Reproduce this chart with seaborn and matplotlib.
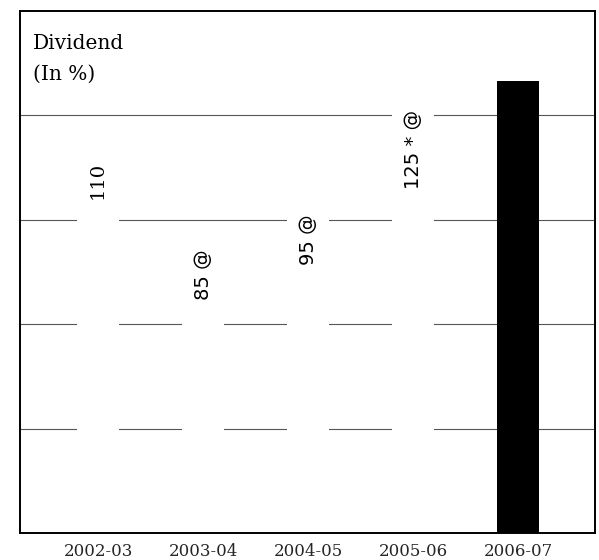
import matplotlib
matplotlib.use("Agg")
import matplotlib.pyplot as plt
import seaborn as sns

# Dividend declared per financial year (in %)
years = ["2002-03", "2003-04", "2004-05", "2005-06", "2006-07"]
dividend = [110, 85, 95, 125, 130]
bar_labels = ["110", "85 @", "95 @", "125 * @", ""]
grid_levels = [30, 60, 90, 120]

sns.set_theme(style="white")
plt.rcParams["font.family"] = ["DejaVu Serif", "DejaVu Sans"]

fig = plt.figure(figsize=(5.99, 5.60), dpi=100)
ax = fig.add_axes([0.0334, 0.0482, 0.96, 0.9322])

bar_colors = ["white"] * (len(years) - 1) + ["black"]
sns.barplot(x=years, y=dividend, hue=years, palette=bar_colors,
            legend=False, width=0.4, linewidth=0, saturation=1, ax=ax)

# horizontal guide lines sit behind the (white) bars
ax.set_axisbelow(True)
for lvl in grid_levels:
    ax.axhline(lvl, color="#555555", lw=0.8, zorder=0)

ax.set_ylim(0, 150)
ax.set_xlim(-0.743, 4.733)
ax.set_yticks([])
ax.set_xlabel("")
ax.set_ylabel("")
ax.tick_params(axis="x", length=0, pad=7, labelsize=12)
for lbl in ax.get_xticklabels():
    lbl.set_family("DejaVu Serif")

for side in ["left", "right", "top", "bottom"]:
    ax.spines[side].set_visible(True)
    ax.spines[side].set_color("black")
    ax.spines[side].set_linewidth(1.4)

# value labels, written upward just below each bar top
for i, (val, txt) in enumerate(zip(dividend, bar_labels)):
    if not txt:
        continue
    fam = "DejaVu Serif" if "@" not in txt else "DejaVu Sans"
    ax.text(i, val - 3.5, txt, rotation=90, ha="center", va="top",
            fontsize=14, family=fam, color="black", zorder=5)

ax.text(0.022, 0.956, "Dividend", transform=ax.transAxes, ha="left", va="top",
        fontsize=14.5, family="DejaVu Serif", color="black")
ax.text(0.022, 0.897, "(In %)", transform=ax.transAxes, ha="left", va="top",
        fontsize=14.5, family="DejaVu Serif", color="black")

fig.savefig("out.png", dpi=100, facecolor="white")
